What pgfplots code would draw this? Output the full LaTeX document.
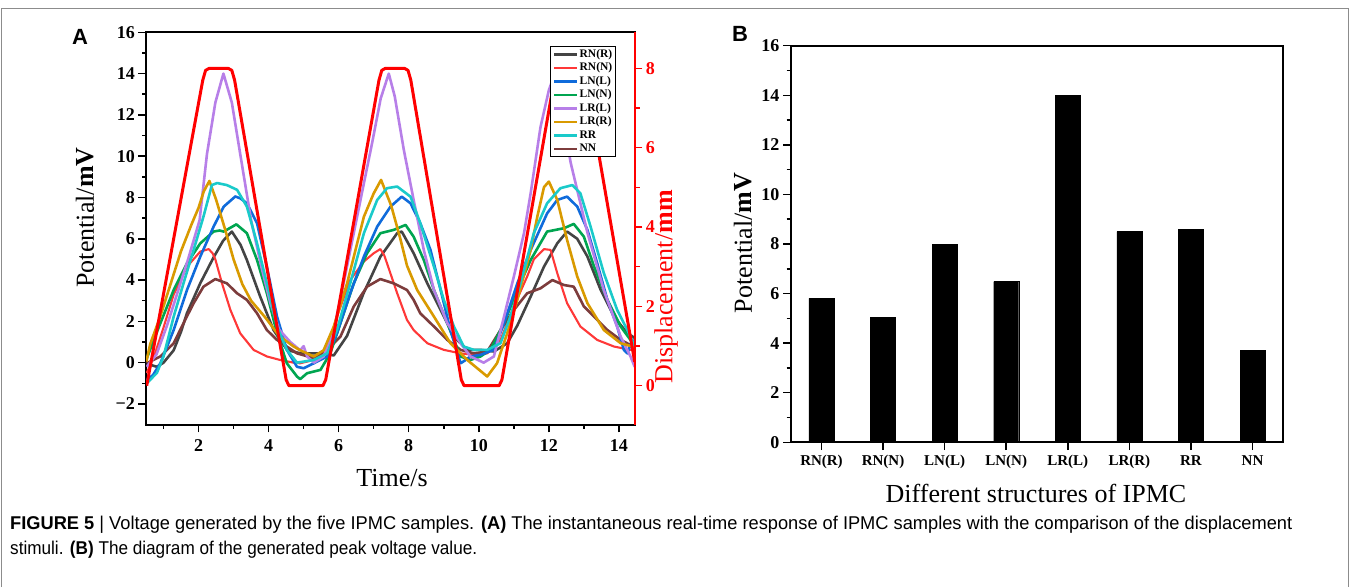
\documentclass[border=0pt]{standalone}
\usepackage{pgfplots}
\pgfplotsset{compat=1.18}
\usepackage{fontspec}
\usepackage{graphicx}
\setmainfont{Liberation Serif}
\newfontfamily\capfont{Liberation Sans}
\definecolor{cRNR}{HTML}{444444}
\definecolor{cRNN}{HTML}{FF3838}
\definecolor{cLNL}{HTML}{0F6BDB}
\definecolor{cLNN}{HTML}{00A550}
\definecolor{cLRL}{HTML}{B77FE8}
\definecolor{cLRR}{HTML}{D99A00}
\definecolor{cRR}{HTML}{1ACACA}
\definecolor{cNN}{HTML}{7D3C3C}
\definecolor{cDisp}{HTML}{FF0000}
\begin{document}
\begin{tikzpicture}[x=1pt,y=1pt]
\path (0,0) rectangle (1352,587);
\draw[black!45, line width=0.8pt] (1.5,0) -- (1.5,578.5) -- (1348.5,578.5) -- (1348.5,0);
% ---------- Panel A ----------
\begin{axis}[at={(146pt,162.4pt)}, anchor=south west, scale only axis,
  width=488.7pt, height=392.3pt,
  xmin=0.5, xmax=14.45, ymin=-3, ymax=16,
  axis line style={line width=2pt},
  tick align=outside, xtick pos=left, ytick pos=left,
  major tick length=7.7pt, minor tick length=4pt,
  every tick/.style={black, line width=1.5pt},
  xtick={2,4,...,14}, xticklabels={2,4,6,8,10,12,14},
  minor xtick={1,3,...,13},
  ytick={-2,0,...,16}, yticklabels={−2,0,2,4,6,8,10,12,14,16},
  minor ytick={-1,1,...,15},
  tick label style={font=\fontsize{18}{20}\selectfont\bfseries},
  xticklabel style={yshift=-4pt},
  every axis plot/.append style={line width=2.6pt, line join=round},
]
\addplot[cRNR] coordinates {(0.52,-0.05)(0.81,-0.2)(1.0,0.0)(1.29,0.6)(1.5,1.5)(1.67,2.4)(2.05,3.85)(2.43,5.1)(2.7,5.9)(2.95,6.35)(3.2,5.7)(3.38,4.97)(3.76,3.2)(4.14,1.58)(4.53,0.61)(4.91,0.45)(5.57,0.45)(5.86,0.35)(6.24,1.3)(6.71,3.36)(7.19,5.13)(7.67,6.27)(7.8,6.35)(8.14,5.3)(8.53,3.84)(8.91,2.55)(9.29,1.26)(9.67,0.62)(10.05,0.62)(10.43,0.54)(10.81,0.94)(11.1,1.8)(11.48,3.2)(11.86,4.65)(12.24,5.78)(12.52,6.35)(12.81,6.0)(13.1,5.14)(13.48,3.52)(13.86,2.23)(14.24,1.42)(14.45,1.2)};
\addplot[cRNN, line width=2.1pt] coordinates {(0.52,-0.5)(0.75,0.4)(1.0,1.7)(1.29,3.3)(1.67,4.65)(2.05,5.38)(2.29,5.5)(2.4,5.3)(2.48,5.0)(2.67,3.84)(2.91,2.55)(3.19,1.42)(3.57,0.62)(3.95,0.3)(4.33,0.13)(4.71,0.0)(4.9,-0.03)(5.29,0.13)(5.67,0.62)(5.95,2.23)(6.33,4.0)(6.72,4.9)(7.0,5.3)(7.19,5.5)(7.3,5.2)(7.38,4.81)(7.67,3.36)(7.95,2.07)(8.14,1.58)(8.53,0.94)(9.0,0.62)(9.48,0.45)(9.86,0.38)(10.24,0.45)(10.62,1.1)(11.0,2.72)(11.38,4.17)(11.57,5.0)(11.86,5.5)(12.05,5.46)(12.24,4.33)(12.52,2.88)(12.9,1.75)(13.38,1.1)(13.86,0.78)(14.33,0.62)(14.45,0.6)};
\addplot[cNN] coordinates {(0.52,-0.03)(0.91,0.3)(1.29,0.94)(1.57,1.91)(1.86,2.88)(2.14,3.68)(2.48,4.05)(2.81,3.84)(3.1,3.36)(3.38,3.04)(3.67,2.39)(3.95,1.58)(4.24,1.1)(4.52,0.78)(4.81,0.45)(5.29,0.22)(5.67,0.62)(6.05,1.26)(6.43,2.72)(6.81,3.68)(7.19,4.05)(7.57,3.84)(7.95,3.52)(8.14,3.04)(8.33,2.39)(8.72,1.75)(9.1,1.1)(9.48,0.62)(9.86,0.45)(10.24,0.54)(10.62,1.58)(11.0,2.55)(11.38,3.36)(11.76,3.6)(12.1,4.0)(12.43,3.76)(12.71,3.68)(13.0,2.72)(13.29,2.23)(13.67,1.58)(14.05,1.1)(14.45,0.75)};
\addplot[cLNN] coordinates {(0.52,0.2)(0.91,1.91)(1.29,3.52)(1.67,4.81)(2.05,5.78)(2.43,6.35)(2.6,6.4)(2.72,6.35)(3.08,6.7)(3.38,6.27)(3.67,4.97)(3.95,3.36)(4.24,1.42)(4.52,-0.03)(4.81,-0.67)(4.9,-0.8)(5.1,-0.51)(5.48,-0.35)(5.76,0.45)(6.05,1.91)(6.43,3.84)(6.81,5.3)(7.19,6.27)(7.57,6.43)(7.91,6.67)(8.14,6.1)(8.43,4.97)(8.72,3.52)(9.1,1.91)(9.48,0.3)(9.76,0.13)(10.05,0.3)(10.33,0.62)(10.72,1.91)(11.1,3.52)(11.48,4.97)(11.95,6.35)(12.43,6.51)(12.71,6.72)(13.0,6.1)(13.29,4.65)(13.67,3.04)(14.05,1.75)(14.33,1.1)(14.45,0.9)};
\addplot[cLNL] coordinates {(0.52,-0.85)(0.7,-0.6)(0.91,-0.03)(1.29,1.58)(1.67,3.52)(2.05,5.14)(2.43,6.59)(2.72,7.56)(3.05,8.05)(3.2,7.95)(3.38,7.72)(3.67,6.75)(3.95,4.65)(4.24,2.23)(4.52,0.62)(4.81,-0.2)(5.0,-0.27)(5.29,-0.03)(5.67,0.3)(5.95,1.42)(6.33,3.36)(6.72,5.14)(7.1,6.59)(7.48,7.56)(7.8,8.04)(8.05,7.72)(8.33,6.75)(8.62,5.46)(8.91,3.52)(9.19,1.58)(9.48,-0.03)(9.6,0.1)(9.76,0.3)(10.05,0.38)(10.43,0.62)(10.72,1.91)(11.1,3.84)(11.48,5.46)(11.95,7.23)(12.24,7.88)(12.52,8.04)(12.81,7.56)(13.1,6.43)(13.38,4.81)(13.67,3.04)(13.95,1.75)(14.14,0.62)(14.24,0.45)(14.38,1.1)(14.45,1.0)};
\addplot[cLRL] coordinates {(0.52,-0.2)(0.8,0.4)(1.1,1.8)(1.4,3.4)(1.7,5.0)(2.03,6.9)(2.24,10.1)(2.48,12.6)(2.71,14.0)(2.95,12.6)(3.19,10.1)(3.5,6.9)(3.8,4.6)(4.05,2.9)(4.3,1.6)(4.62,1.0)(4.9,0.6)(5.0,0.8)(5.1,0.3)(5.29,0.0)(5.57,0.3)(5.86,1.58)(6.14,3.84)(6.43,6.27)(6.72,8.69)(6.95,10.6)(7.2,12.8)(7.43,14.0)(7.6,12.9)(7.86,10.3)(8.14,7.88)(8.43,5.46)(8.72,3.52)(9.1,1.91)(9.48,0.94)(9.76,0.3)(10.14,0.0)(10.43,0.3)(10.72,2.23)(11.0,4.17)(11.29,6.27)(11.48,8.2)(11.76,11.4)(12.0,13.2)(12.17,14.0)(12.4,12.0)(12.62,9.7)(13.1,6.3)(13.57,3.5)(14.05,1.26)(14.33,0.3)(14.45,-0.2)};
\addplot[cLRR] coordinates {(0.51,0.05)(0.62,0.9)(0.9,2.2)(1.2,3.8)(1.5,5.4)(1.8,6.7)(2.0,7.5)(2.15,8.3)(2.31,8.8)(2.5,7.9)(2.75,6.5)(3.0,5.0)(3.25,3.8)(3.5,3.0)(3.9,2.2)(4.3,1.3)(4.7,0.8)(4.9,0.6)(5.29,0.3)(5.57,0.6)(5.86,1.75)(6.24,3.84)(6.72,7.07)(7.0,8.2)(7.21,8.85)(7.5,7.6)(7.76,6.0)(7.95,4.7)(8.24,3.52)(8.72,2.23)(9.19,0.94)(9.67,0.13)(10.24,-0.67)(10.52,-0.03)(10.81,1.42)(11.1,3.04)(11.48,5.46)(11.67,7.07)(11.86,8.5)(12.0,8.77)(12.24,7.88)(12.52,5.94)(12.81,4.17)(13.1,2.88)(13.57,1.58)(14.05,0.94)(14.45,0.75)};
\addplot[cRR] coordinates {(0.52,-1.0)(0.81,-0.5)(1.0,0.3)(1.29,2.23)(1.57,3.84)(1.86,5.46)(2.14,7.07)(2.38,8.6)(2.53,8.7)(2.81,8.6)(3.1,8.37)(3.38,7.56)(3.67,5.78)(3.95,3.84)(4.24,1.75)(4.52,0.62)(4.81,0.0)(5.29,0.13)(5.67,0.45)(5.95,1.58)(6.33,3.84)(6.72,6.27)(7.1,7.88)(7.38,8.45)(7.67,8.53)(8.05,8.04)(8.33,6.75)(8.72,4.65)(9.0,3.04)(9.29,1.75)(9.57,0.78)(9.86,0.62)(10.24,0.62)(10.62,0.94)(10.9,2.23)(11.19,3.84)(11.57,6.27)(11.95,7.72)(12.33,8.45)(12.67,8.6)(12.9,8.2)(13.19,6.59)(13.57,4.33)(13.95,2.55)(14.24,1.58)(14.45,0.8)};
\end{axis}
\begin{axis}[at={(146pt,162.4pt)}, anchor=south west, scale only axis,
  width=488.7pt, height=392.3pt,
  xmin=0.5, xmax=14.45, ymin=-0.981, ymax=8.91,
  axis x line=none, axis y line*=right,
  axis line style={line width=2pt, cDisp, -},
  tick align=outside,
  major tick length=7.7pt, minor tick length=5pt,
  every tick/.style={cDisp, line width=1.5pt},
  ytick={0,2,4,6,8}, yticklabels={0,2,4,6,8},
  minor ytick={1,3,5,7},
  yticklabel style={font=\fontsize{18}{20}\selectfont\bfseries, text=cDisp},
  legend style={at={(0.827,0.965)}, anchor=north west, draw=black, line width=1pt,
    fill=white, font=\fontsize{11.5}{12}\selectfont\bfseries,
    inner xsep=2.5pt, inner ysep=1.5pt, row sep=1pt,
    nodes={inner sep=1pt, text height=8pt, text depth=2.5pt}},
  legend cell align=left,
  legend image code/.code={\draw[#1] (0pt,0pt) -- (23pt,0pt);},
]
\addplot[cDisp, line width=3pt, line join=round, forget plot] coordinates {(0.52,0)(2.12,7.7)(2.2,7.95)(2.3,8)(2.85,8)(2.95,7.95)(3.03,7.7)(4.5,0.15)(4.58,0)(5.55,0)(5.63,0.15)(7.15,7.7)(7.23,7.95)(7.33,8)(7.88,8)(7.98,7.95)(8.06,7.7)(9.5,0.15)(9.58,0)(10.58,0)(10.66,0.15)(12.15,7.7)(12.23,7.95)(12.33,8)(12.88,8)(12.98,7.95)(13.06,7.7)(14.45,0.6)};
\addlegendimage{cRNR, line width=2.5pt}\addlegendentry{RN(R)}
\addlegendimage{cRNN, line width=2.5pt}\addlegendentry{RN(N)}
\addlegendimage{cLNL, line width=2.5pt}\addlegendentry{LN(L)}
\addlegendimage{cLNN, line width=2.5pt}\addlegendentry{LN(N)}
\addlegendimage{cLRL, line width=2.5pt}\addlegendentry{LR(L)}
\addlegendimage{cLRR, line width=2.5pt}\addlegendentry{LR(R)}
\addlegendimage{cRR, line width=2.5pt}\addlegendentry{RR}
\addlegendimage{cNN, line width=2.5pt}\addlegendentry{NN}
\end{axis}
\node[rotate=90, font=\fontsize{26}{30}\selectfont] at (85,369.5) {Potential/\textbf{mV}};
\node[font=\fontsize{26}{30}\selectfont] at (392,109) {Time/s};
\node[rotate=90, font=\fontsize{26}{30}\selectfont, text=cDisp] at (666,300) {Displacement/\textbf{mm}};
\node[font=\capfont\bfseries\fontsize{22}{24}\selectfont] at (80,550) {A};
% ---------- Panel B ----------
\begin{axis}[at={(790.7pt,144.7pt)}, anchor=south west, scale only axis,
  width=492.6pt, height=396.6pt,
  xmin=-0.5, xmax=7.5, ymin=0, ymax=16,
  axis line style={line width=2pt},
  tick align=outside, xtick pos=left, ytick pos=left,
  major tick length=7.7pt, minor tick length=4pt,
  every tick/.style={black, line width=1.5pt},
  xtick={0,...,7}, xticklabels={RN(R),RN(N),LN(L),LN(N),LR(L),LR(R),RR,NN},
  ytick={0,2,...,16}, yticklabels={0,2,4,6,8,10,12,14,16},
  minor ytick={1,3,...,15},
  yticklabel style={font=\fontsize{18}{20}\selectfont\bfseries},
  xticklabel style={font=\fontsize{15}{17}\selectfont\bfseries, yshift=-2pt},
]
\addplot[ybar, bar width=25pt, fill=black, draw=black] coordinates {(0,5.81)(1,5.04)(2,8.0)(3,6.48)(4,14.01)(5,8.5)(6,8.59)(7,3.7)};
\end{axis}
\node[rotate=90, font=\fontsize{26}{30}\selectfont] at (743,344) {Potential/\textbf{mV}};
\node[font=\fontsize{26}{30}\selectfont] at (1036,94) {Different structures of IPMC};
\node[font=\capfont\bfseries\fontsize{22}{24}\selectfont] at (740,553) {B};
% ---------- Caption ----------
\node[anchor=base west, inner sep=0pt] at (10,58) {\resizebox{1282pt}{\height}{\capfont\fontsize{18.5}{20}\selectfont\textbf{FIGURE 5} | Voltage generated by the five IPMC samples. \textbf{(A)} The instantaneous real-time response of IPMC samples with the comparison of the displacement}};
\node[anchor=base west, inner sep=0pt] at (10,33) {\resizebox{467pt}{\height}{\capfont\fontsize{18.5}{20}\selectfont stimuli. \textbf{(B)} The diagram of the generated peak voltage value.}};
\end{tikzpicture}
\end{document}
